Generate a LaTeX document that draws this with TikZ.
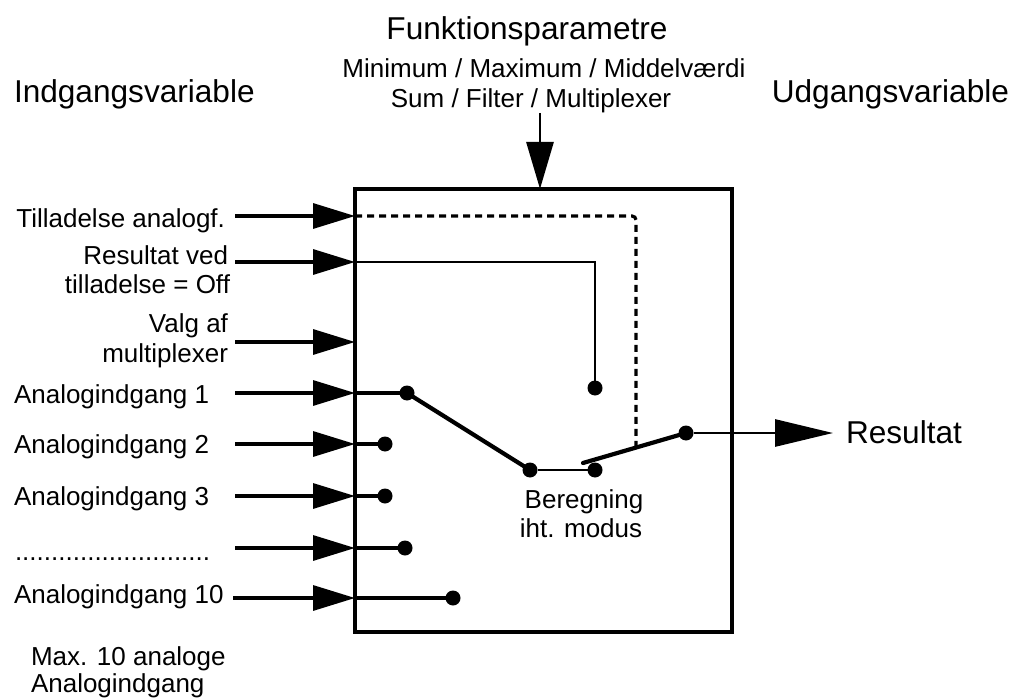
\documentclass[tikz,border=0pt]{standalone}
\usepackage{fontspec}
\setmainfont{Liberation Sans}
\usetikzlibrary{arrows.meta,calc}
\begin{document}
\begin{tikzpicture}[x=1pt,y=-1pt,
  lbl/.style={inner sep=0pt, outer sep=0pt, font=\fontsize{26}{30}\selectfont},
  head/.style={inner sep=0pt, outer sep=0pt, font=\fontsize{31.6}{36}\selectfont},
  feed/.style={line width=3.3pt, -{Triangle[length=42pt,width=25pt]}},
  wire/.style={line width=3.2pt},
  thinwire/.style={line width=2.8pt},
  arm/.style={line width=4.2pt, line cap=round},
  ctrl/.style={line width=3.2pt, dash pattern=on 7pt off 5pt, rounded corners=4pt},
  pin/.style={circle, fill, inner sep=0pt, outer sep=0pt, minimum size=15pt}]
\useasboundingbox (0,0) rectangle (1015,698);

% function block
\node[draw, line width=3.3pt, outer sep=0pt, minimum width=377pt, minimum height=443pt,
      anchor=north west] (blk) at (355,189) {};

% headings
\node[head, anchor=base] (fp) at (527,40) {Funktionsparametre};
\node[lbl, anchor=base] (modes1) at (544,78) {Minimum / Maximum / Middelværdi};
\node[lbl, anchor=base] (modes2) at (531,108) {Sum / Filter / Multiplexer};
\node[head, anchor=base west] (inv) at (14,103) {Indgangsvariable};
\node[head, anchor=base east] (outv) at (1009,103) {Udgangsvariable};

% parameter input
\coordinate (ptop) at (540,113);
\coordinate (pin0) at (540,189);
\draw[line width=2.8pt, -{Triangle[length=47pt,width=27pt]}] (ptop) -- (pin0);

% input labels
\node[lbl, anchor=base east] (l1) at (225,227) {Tilladelse analogf.};
\node[lbl, anchor=base east] (l2a) at (228,264) {Resultat ved};
\node[lbl, anchor=base east] (l2b) at (230,293) {tilladelse = Off};
\node[lbl, anchor=base east] (l3a) at (228,332) {Valg af};
\node[lbl, anchor=base east] (l3b) at (228,362) {multiplexer};
\node[lbl, anchor=base west] (l4) at (14,403) {Analogindgang 1};
\node[lbl, anchor=base west] (l5) at (14,453) {Analogindgang 2};
\node[lbl, anchor=base west] (l6) at (14,505) {Analogindgang 3};
\node[lbl, anchor=base west] (l7) at (15,560) {...........................};
\node[lbl, anchor=base west] (l8) at (14,603) {Analogindgang 10};
\node[lbl, anchor=base west] (nmax) at (31,665) {Max. 10 analoge};
\node[lbl, anchor=base west] (nmax2) at (31,692) {Analogindgang};

% input line start points and arrow tips on the block edge
\foreach \n/\y/\x in {1/216/235, 2/262/235, 3/342/235, 4/393/235,
                      5/444/235, 6/496/235, 7/548/235, 8/598/233} {
  \coordinate (s\n) at (\x,\y);
  \coordinate (t\n) at (355,\y);
  \draw[feed] (s\n) -- (t\n);
}

% contacts
\node[pin] (a1) at (407,393) {};
\node[pin] (a2) at (385,444) {};
\node[pin] (a3) at (385,496) {};
\node[pin] (a4) at (405,548) {};
\node[pin] (a10) at (453,598) {};
\node[pin] (m1) at (530,470) {};
\node[pin] (m2) at (595,470) {};
\node[pin] (off) at (595,388) {};
\node[pin] (out) at (686,433) {};

\draw[wire] (t4) -- (a1);
\draw[wire] (t5) -- (a2);
\draw[wire] (t6) -- (a3);
\draw[wire] (t7) -- (a4);
\draw[wire] (t8) -- (a10);

% multiplexer arm and calculation
\draw[arm] (a1) -- (m1);
\draw[thinwire] (m1) -- (m2);
\node[lbl, anchor=base] (calc1) at (584,508) {Beregning};
\node[lbl, anchor=base] (calc2) at (581,537) {iht. modus};

% release switch
\coordinate (armend) at (583,463);
\draw[arm] (armend) -- (out);
\coordinate (armmid) at ($(armend)!0.515!(out)$);
\draw[ctrl] (t1) -| (armmid);
\draw[thinwire] (t2) -| (off);

% output
\coordinate (rtip) at (833,433);
\draw[thinwire, -{Triangle[length=58pt,width=27pt]}] (out) -- (rtip);
\node[head, anchor=base west] (res) at (846,443) {Resultat};
\end{tikzpicture}
\end{document}
